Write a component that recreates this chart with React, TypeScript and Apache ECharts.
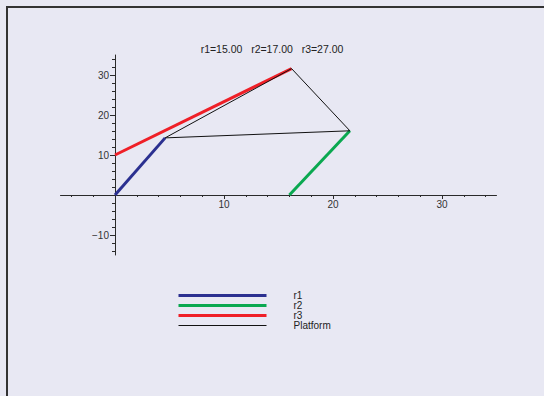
import React, { useEffect, useRef } from "react";
import * as echarts from "echarts";

const titleText = "r1=15.00   r2=17.00   r3=27.00";
const seriesNames = ["r1", "r2", "r3", "Platform"];
const seriesColors = ["#2b3090", "#0aa850", "#ef1f27", "#111111"];
const seriesWidths = [3, 3, 3, 1];
const r1Points = [[0, 0], [4.6, 14.28]];
const r2Points = [[16, 0], [21.55, 16.05]];
const r3Points = [[0, 10], [16.2, 31.6]];
const platformPoints = [[4.6, 14.28], [16.2, 31.6], [21.55, 16.05], [4.6, 14.28]];
const xMajorTicks = [10, 20, 30];
const xMinorTicks = [-4, -2, 2, 4, 6, 8, 12, 14, 16, 18, 22, 24, 26, 28, 32, 34];
const yMajorTicks = [-10, 10, 20, 30];
const yMinorTicks = [-14, -12, -8, -6, -4, -2, 2, 4, 6, 8, 12, 14, 16, 18, 22, 24, 26, 28, 32, 34];
const xRange = [-5, 35];
const yRange = [-15, 35];

const FONT = "'Liberation Sans', Arial, sans-serif";
const AXIS_COLOR = "#2a2a2a";

const GRID_LEFT = 60.5;
const GRID_WIDTH = 436;
const GRID_TOP = 55;
const GRID_HEIGHT = 200;

export default function App() {
  const ref = useRef<HTMLDivElement>(null);
  useEffect(() => {
    if (!ref.current) return;
    const chart = echarts.init(ref.current, undefined, { renderer: "svg" });
    const fmt = (v: number) => String(v).replace("-", "\u2212");
    const allData = [r1Points, r2Points, r3Points, platformPoints];
    const xOffset = -(GRID_HEIGHT * (0 - yRange[0])) / (yRange[1] - yRange[0]);
    const yOffset = -(GRID_WIDTH * (0 - xRange[0])) / (xRange[1] - xRange[0]);
    const mkX = (major: boolean) => ({
      type: "value",
      min: xRange[0],
      max: xRange[1],
      position: "bottom",
      offset: xOffset,
      axisLine: { show: major, onZero: false, lineStyle: { color: AXIS_COLOR, width: 1 } },
      axisTick: {
        show: true,
        customValues: major ? xMajorTicks : xMinorTicks,
        length: major ? 4 : 2,
        lineStyle: { color: AXIS_COLOR, width: 1 },
      },
      axisLabel: {
        show: major,
        customValues: xMajorTicks,
        formatter: fmt,
        color: "#333",
        fontSize: 10,
        fontFamily: FONT,
        margin: 4,
        align: "center",
        verticalAlign: "top",
      },
      splitLine: { show: false },
    });
    const mkY = (major: boolean) => ({
      type: "value",
      min: yRange[0],
      max: yRange[1],
      position: "left",
      offset: yOffset,
      axisLine: { show: major, onZero: false, lineStyle: { color: AXIS_COLOR, width: 1 } },
      axisTick: {
        show: true,
        customValues: major ? yMajorTicks : yMinorTicks,
        length: major ? 5 : 3,
        lineStyle: { color: AXIS_COLOR, width: 1 },
      },
      axisLabel: {
        show: major,
        customValues: yMajorTicks,
        formatter: fmt,
        color: "#333",
        fontSize: 10,
        fontFamily: FONT,
        margin: 6,
        align: "right",
        verticalAlign: "middle",
      },
      splitLine: { show: false },
    });
    chart.setOption({
      animation: false,
      backgroundColor: "#e8e8f3",
      title: {
        text: titleText,
        left: "center",
        top: 38,
        textStyle: { fontSize: 10.5, fontWeight: "normal", color: "#222", fontFamily: FONT },
      },
      graphic: [
        {
          type: "rect",
          shape: { x: 7, y: 7, width: 700, height: 600 },
          style: { fill: "none", stroke: "#333", lineWidth: 2 },
          silent: true,
        },
      ],
      grid: {
        left: GRID_LEFT,
        width: GRID_WIDTH,
        top: GRID_TOP,
        height: GRID_HEIGHT,
        containLabel: false,
        outerBoundsMode: "none",
      },
      xAxis: [mkX(true), mkX(false)],
      yAxis: [mkY(true), mkY(false)],
      legend: {
        orient: "vertical",
        left: 177,
        top: 290.5,
        itemWidth: 88,
        itemHeight: 10,
        itemGap: 0,
        padding: 0,
        itemStyle: { opacity: 0, color: "transparent", borderWidth: 0 },
        data: seriesNames.map((name, i) => ({
          name,
          lineStyle: { width: seriesWidths[i], color: seriesColors[i] },
        })),
        textStyle: { fontSize: 10, color: "#222", fontFamily: FONT, padding: [0, 0, 0, 22], lineHeight: 10 },
      },
      series: seriesNames.map((name, i) => ({
        name,
        type: "line",
        xAxisIndex: 0,
        yAxisIndex: 0,
        data: allData[i],
        symbol: "none",
        showSymbol: false,
        color: seriesColors[i],
        lineStyle: { color: seriesColors[i], width: seriesWidths[i] },
        z: i === 3 ? 5 : 3,
      })),
    });
    return () => chart.dispose();
  }, []);
  return (
    <div
      ref={ref}
      style={{ position: "fixed", left: 0, top: 0, width: 544, height: 396 }}
    />
  );
}
